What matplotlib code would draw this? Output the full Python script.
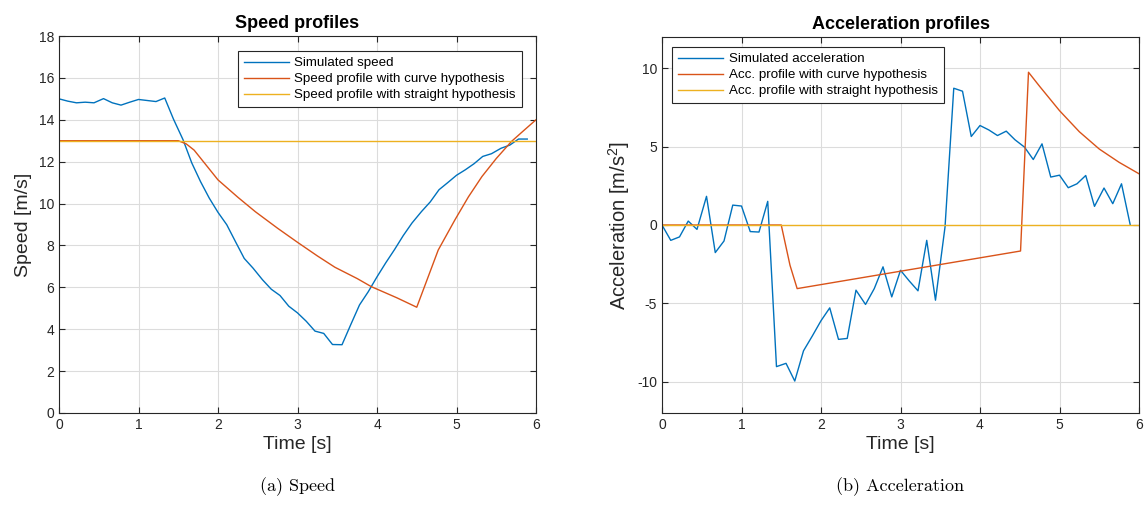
import matplotlib
matplotlib.use("Agg")
import matplotlib.pyplot as plt

plt.rcParams['font.family'] = ['Liberation Sans', 'DejaVu Sans']
plt.rcParams['mathtext.default'] = 'regular'
plt.rcParams['axes.unicode_minus'] = False

# time samples of the simulation
t_sim = [0.00, 0.11, 0.22, 0.33, 0.44, 0.56, 0.67, 0.78, 0.89, 1.00,
         1.11, 1.22, 1.33, 1.44, 1.56, 1.67, 1.78, 1.89, 2.00, 2.11,
         2.22, 2.33, 2.44, 2.56, 2.67, 2.78, 2.89, 3.00, 3.11, 3.22,
         3.33, 3.44, 3.56, 3.67, 3.78, 3.89, 4.00, 4.11, 4.22, 4.33,
         4.44, 4.56, 4.67, 4.78, 4.89, 5.00, 5.11, 5.22, 5.33, 5.44,
         5.56, 5.67, 5.78, 5.89]

speed_sim = [15.00, 14.89, 14.81, 14.84, 14.81, 15.01, 14.81, 14.70, 14.84, 14.97,
             14.92, 14.87, 15.04, 14.03, 13.05, 11.94, 11.05, 10.26, 9.58, 8.99,
             8.18, 7.38, 6.92, 6.36, 5.91, 5.61, 5.10, 4.78, 4.38, 3.91,
             3.80, 3.27, 3.26, 4.22, 5.16, 5.79, 6.50, 7.17, 7.80, 8.47,
             9.07, 9.62, 10.08, 10.66, 11.00, 11.35, 11.61, 11.90, 12.25, 12.38,
             12.64, 12.79, 13.08, 13.08]

acc_sim = [0.00, -0.98, -0.76, 0.25, -0.28, 1.83, -1.76, -1.02, 1.27, 1.21,
           -0.42, -0.45, 1.51, -9.04, -8.83, -9.96, -8.03, -7.09, -6.11, -5.29,
           -7.30, -7.24, -4.16, -5.07, -4.06, -2.67, -4.59, -2.89, -3.57, -4.20,
           -0.98, -4.80, -0.13, 8.73, 8.54, 5.65, 6.35, 6.07, 5.71, 5.99,
           5.44, 4.97, 4.18, 5.18, 3.06, 3.18, 2.38, 2.63, 3.16, 1.19,
           2.36, 1.36, 2.63, 0.00]

# curve hypothesis profile
t_curve_v = [0.0, 1.5, 1.6, 1.7, 2.0, 2.25, 2.47, 2.75, 3.0, 3.25, 3.47, 3.75, 3.93, 4.25, 4.5,
             4.77, 4.98, 5.15, 5.32, 5.5, 5.69, 5.85, 6.0]
speed_curve = [13.0, 13.0, 12.85, 12.55, 11.13, 10.3, 9.61, 8.82, 8.15, 7.5, 6.96, 6.42, 6.03, 5.5, 5.05,
               7.78, 9.22, 10.32, 11.29, 12.15, 12.96, 13.5, 14.0]

t_curve_a = [0.0, 1.5, 1.61, 1.70, 4.51, 4.61, 4.75, 5.0, 5.25, 5.5, 5.75, 6.0]
acc_curve = [0.0, 0.0, -2.57, -4.06, -1.66, 9.75, 8.85, 7.3, 5.95, 4.85, 4.0, 3.27]

# straight hypothesis profile
t_straight = [0.0, 6.0]
speed_straight = [13.0, 13.0]
acc_straight = [0.0, 0.0]

blue = '#0072BD'
orange = '#D95319'
yellow = '#EDB120'
dark = '#262626'

W, H = 1147, 515
fig = plt.figure(figsize=(W / 100, H / 100), dpi=100)


def style_axes(ax):
    ax.grid(True, color='#dcdcdc', linewidth=0.8)
    ax.set_axisbelow(True)
    ax.tick_params(direction='in', top=True, right=True, length=4, width=0.8,
                   colors=dark, labelsize=10, labelcolor=dark)
    for s in ax.spines.values():
        s.set_color(dark)
        s.set_linewidth(0.8)


def add_legend(ax, loc, anchor):
    leg = ax.legend(loc=loc, bbox_to_anchor=anchor, bbox_transform=fig.transFigure,
                    borderaxespad=0, fontsize=9.6, fancybox=False, framealpha=1,
                    edgecolor=dark, handlelength=3.4, handletextpad=0.4,
                    labelspacing=0.28, borderpad=0.45)
    leg.get_frame().set_linewidth(0.8)
    return leg


ax1 = fig.add_axes([59 / W, (H - 413) / H, 477 / W, 377 / H])
ax1.plot(t_sim, speed_sim, color=blue, lw=1, label='Simulated speed')
ax1.plot(t_curve_v, speed_curve, color=orange, lw=1, label='Speed profile with curve hypothesis')
ax1.plot(t_straight, speed_straight, color=yellow, lw=1, label='Speed profile with straight hypothesis')
ax1.set_xlim(0, 6)
ax1.set_ylim(0, 18)
ax1.set_xticks(range(0, 7))
ax1.set_yticks(range(0, 19, 2))
style_axes(ax1)
ax1.set_xlabel('Time [s]', fontsize=14, color=dark, labelpad=3)
ax1.set_ylabel('Speed [m/s]', fontsize=14, color=dark, labelpad=5)
ax1.set_title('Speed profiles', fontsize=13, fontweight='bold', color='black', pad=6)
add_legend(ax1, 'upper right', (522 / W, 1 - 51 / H))

ax2 = fig.add_axes([662 / W, (H - 413) / H, 477 / W, 376 / H])
ax2.plot(t_sim, acc_sim, color=blue, lw=1, label='Simulated acceleration')
ax2.plot(t_curve_a, acc_curve, color=orange, lw=1, label='Acc. profile with curve hypothesis')
ax2.plot(t_straight, acc_straight, color=yellow, lw=1, label='Acc. profile with straight hypothesis')
ax2.set_xlim(0, 6)
ax2.set_ylim(-12, 12)
ax2.set_xticks(range(0, 7))
ax2.set_yticks([-10, -5, 0, 5, 10])
style_axes(ax2)
ax2.set_xlabel('Time [s]', fontsize=14, color=dark, labelpad=3)
ax2.set_ylabel('Acceleration [m/s$^2$]', fontsize=14.5, color=dark, labelpad=4)
ax2.set_title('Acceleration profiles', fontsize=13, fontweight='bold', color='black', pad=6)
add_legend(ax2, 'upper left', (672 / W, 1 - 47 / H))

# sub-figure captions
fig.text(298 / W, 1 - 487 / H, '(a) Speed', family='cmr10', fontsize=13,
         ha='center', va='center')
fig.text(900 / W, 1 - 487 / H, '(b) Acceleration', family='cmr10', fontsize=13,
         ha='center', va='center')

fig.savefig('out.png', dpi=100)
